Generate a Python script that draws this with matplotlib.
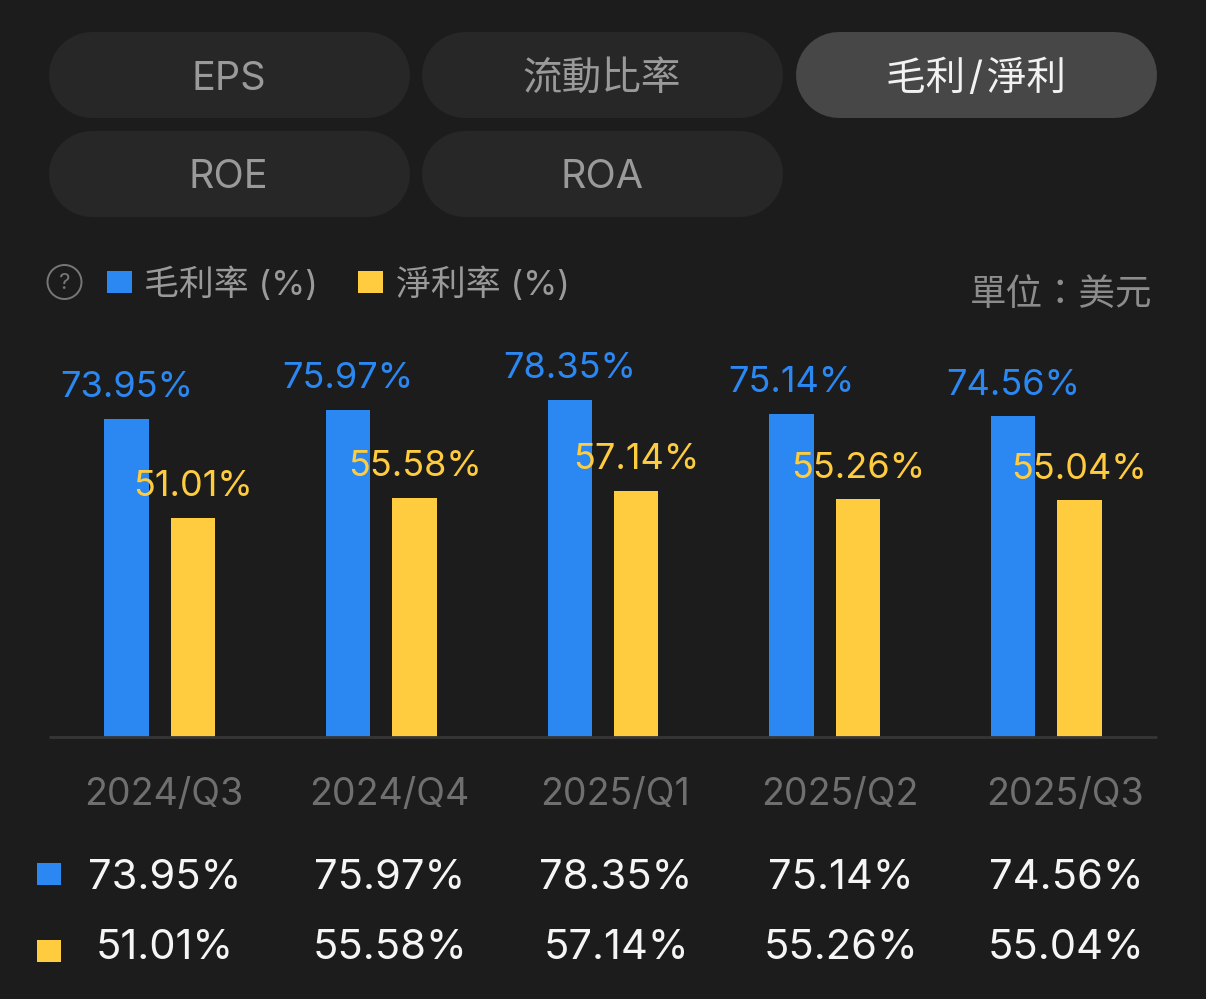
#!/usr/bin/env python3
"""Margin bars (gross / net) with pill tabs and a value table, dark app style."""

import matplotlib
matplotlib.use('Agg')
import matplotlib.pyplot as plt
import matplotlib.patches as patches

plt.rcParams['font.family'] = ['Inter', 'Noto Sans CJK TC', 'DejaVu Sans']

W, H = 1206, 999
BG = '#1c1c1c'
BLUE = '#2b88f2'
YELLOW = '#ffcc40'

quarters = ['2024/Q3', '2024/Q4', '2025/Q1', '2025/Q2', '2025/Q3']
gross_margin = [73.95, 75.97, 78.35, 75.14, 74.56]
net_margin = [51.01, 55.58, 57.14, 55.26, 55.04]
tabs = ['EPS', '流動比率', '毛利\u200a/\u200a淨利', 'ROE', 'ROA']
active_tab = '毛利\u200a/\u200a淨利'
series_names = ['毛利率 (%)', '淨利率 (%)']
unit_label = '單位：美元'

fig = plt.figure(figsize=(W / 100, H / 100), dpi=100, facecolor=BG)

# overlay in pixel coordinates for the app chrome
ui = fig.add_axes([0, 0, 1, 1], zorder=1)
ui.axis('off')
ui.patch.set_alpha(0)

# --- bars ---
ax = fig.add_axes([49 / W, 1 - 737 / H, (1157 - 49) / W, 400 / H], zorder=2)
ax.patch.set_alpha(0)
ax.set_xlim(-0.5, 4.5)
ax.set_ylim(0, 93.0)
xs = list(range(len(quarters)))
ax.bar([x - 0.15 for x in xs], gross_margin, width=0.2, color=BLUE, zorder=2)
ax.bar([x + 0.15 for x in xs], net_margin, width=0.2, color=YELLOW, zorder=2)
for x, g, n in zip(xs, gross_margin, net_margin):
    ax.annotate(f'{g:.2f}%', (x - 0.15, g), xytext=(0, 22.5), textcoords='offset points',
                ha='center', va='center', color=BLUE, fontsize=26, zorder=3)
    ax.annotate(f'{n:.2f}%', (x + 0.15, n), xytext=(0, 22.5), textcoords='offset points',
                ha='center', va='center', color=YELLOW, fontsize=26, zorder=3)
ax.set_xticks([])
ax.set_yticks([])
for name, spine in ax.spines.items():
    spine.set_visible(name == 'bottom')
ax.spines['bottom'].set_color('#363636')
ax.spines['bottom'].set_linewidth(2)
ax.spines['bottom'].set_capstyle('butt')

# --- pill tabs ---
pill_x = [49, 422, 796, 49, 422]
pill_y = [32, 32, 32, 131, 131]
pill_w, pill_h = 361, 86
for label, px, py in zip(tabs, pill_x, pill_y):
    on = label == active_tab
    # thick round-capped line gives a fully rounded pill
    ui.plot([px + pill_h / 2, px + pill_w - pill_h / 2], [py + pill_h / 2] * 2,
            lw=pill_h * 0.72, solid_capstyle='round',
            color='#474747' if on else '#272727')
    ui.text(px + pill_w / 2 - 1, py + pill_h / 2 + 4, label, ha='center', va='center',
            fontsize=28.5, color='#f2f2f2' if on else '#9a9a9a')

# --- legend row ---
ui.add_patch(patches.Circle((64.5, 282), 17, facecolor='none', edgecolor='#777777', linewidth=1.4))
ui.text(64.5, 283, '?', ha='center', va='center', fontsize=16, color='#777777')
for lx, color, name in zip([107, 358], [BLUE, YELLOW], series_names):
    ui.add_patch(patches.Rectangle((lx, 271), 25, 22, facecolor=color, linewidth=0))
    ui.text(lx + 37.5, 285, name, ha='left', va='center', fontsize=25.1, color='#9a9a9a')
ui.text(1152, 295, unit_label, ha='right', va='center', fontsize=26.3, color='#8c8c8c')

# --- quarter labels + value table ---
col_x = [164, 389, 615, 840, 1065]
for cx, q, g, n in zip(col_x, quarters, gross_margin, net_margin):
    ui.text(cx, 795, q, ha='center', va='center', fontsize=27, color='#6f6f6f')
    ui.text(cx + 1, 878, f'{g:.2f}%', ha='center', va='center', fontsize=30, color='#f5f5f5')
    ui.text(cx + 1, 948, f'{n:.2f}%', ha='center', va='center', fontsize=30, color='#f5f5f5')
ui.add_patch(patches.Rectangle((37, 863), 24, 22, facecolor=BLUE, linewidth=0))
ui.add_patch(patches.Rectangle((37, 940), 24, 22, facecolor=YELLOW, linewidth=0))

ui.set_xlim(0, W)
ui.set_ylim(H, 0)

fig.savefig('out.png', dpi=100, facecolor=BG)
